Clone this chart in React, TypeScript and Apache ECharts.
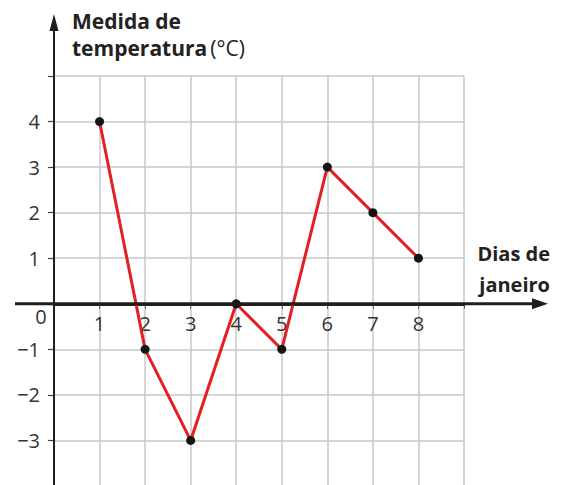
import React, { useEffect, useRef } from "react";
import * as echarts from "echarts";

const days = [1, 2, 3, 4, 5, 6, 7, 8];
const temps = [4, -1, -3, 0, -1, 3, 2, 1];
const xMin = 0;
const xMax = 9;
const yMin = -4;
const yMax = 5;
const xTickLabels = ["1", "2", "3", "4", "5", "6", "7", "8"];
const yTickLabels = ["−3", "−2", "−1", "1", "2", "3", "4"];
const yTitle = ["Medida de", "temperatura", "(°C)"];
const xTitle = ["Dias de", "janeiro"];

const FONT = "'Open Sans', 'Noto Sans', sans-serif";
const AXIS = "#1e1e1e";

export default function App() {
  const ref = useRef<HTMLDivElement>(null);
  useEffect(() => {
    document.body.style.margin = "0";
    if (!ref.current) return;
    const chart = echarts.init(ref.current, null, { renderer: "svg" });
    const fmtY = (v: number) => {
      const s = v < 0 ? "−" + Math.abs(v) : String(v);
      return yTickLabels.includes(s) ? s : "";
    };
    const fmtX = (v: number) => (xTickLabels.includes(String(v)) ? String(v) : "");
    chart.setOption({
      animation: false,
      grid: { left: 54, right: 102, top: 76, height: 410, containLabel: false, outerBoundsMode: "none" },
      xAxis: {
        type: "value",
        min: xMin,
        max: xMax,
        interval: 1,
        position: "bottom",
        offset: 0,
        axisLine: { show: true, onZero: false, lineStyle: { color: AXIS, width: 3 } },
        axisTick: { show: true, length: 5, lineStyle: { color: "#555", width: 1 } },
        axisLabel: { formatter: fmtX, margin: 10, fontSize: 20, color: "#333", fontFamily: FONT },
        splitLine: { show: true, lineStyle: { color: "#c8c8c8", width: 1.5 } },
      },
      yAxis: {
        type: "value",
        min: yMin,
        max: yMax,
        interval: 1,
        axisLine: { show: true, onZero: false, lineStyle: { color: AXIS, width: 2 } },
        axisTick: { show: true, length: 6, lineStyle: { color: "#444", width: 1.2 } },
        axisLabel: { formatter: fmtY, margin: 14, fontSize: 20, color: "#333", fontFamily: FONT },
        splitLine: { show: true, lineStyle: { color: "#c8c8c8", width: 1.5 } },
      },
      series: [
        {
          type: "line",
          data: days.map((d, i) => [d, temps[i]]),
          lineStyle: { color: "#e31e24", width: 3 },
          symbol: "circle",
          symbolSize: 9,
          itemStyle: { color: "#141414" },
          z: 5,
        },
      ],
    });
    const [x0, y0] = chart.convertToPixel({ gridIndex: 0 }, [0, 0]) as number[];
    const [x9, y5] = chart.convertToPixel({ gridIndex: 0 }, [xMax, yMax]) as number[];
    const [, yb] = chart.convertToPixel({ gridIndex: 0 }, [0, yMin]) as number[];
    chart.setOption({
      xAxis: { offset: -(yb - y0) },
      graphic: [
        {
          type: "line",
          shape: { x1: 15, y1: y0, x2: x9 + 72, y2: y0 },
          style: { stroke: AXIS, lineWidth: 3 },
          z: 10,
        },
        {
          type: "polygon",
          shape: { points: [[x9 + 84, y0], [x9 + 68, y0 - 5.5], [x9 + 68, y0 + 5.5]] },
          style: { fill: AXIS },
          z: 10,
        },
        {
          type: "line",
          shape: { x1: x0, y1: yb, x2: x0, y2: y5 - 48 },
          style: { stroke: AXIS, lineWidth: 2 },
          z: 10,
        },
        {
          type: "polygon",
          shape: { points: [[x0, y5 - 62], [x0 - 4.5, y5 - 45], [x0 + 4.5, y5 - 45]] },
          style: { fill: AXIS },
          z: 10,
        },
        {
          type: "text",
          x: x0 - 13,
          y: y0 + 13,
          style: {
            text: "0",
            fontSize: 20,
            fill: "#333",
            fontFamily: FONT,
            align: "center",
            verticalAlign: "middle",
          },
          z: 10,
        },
        {
          type: "text",
          x: x0 + 18,
          y: 7,
          style: {
            text: `{b|${yTitle[0]}}\n{b|${yTitle[1]}} {n|${yTitle[2]}}`,
            fontFamily: FONT,
            rich: {
              b: { fontSize: 21, fontWeight: "bold", fill: "#222", fontFamily: FONT, lineHeight: 27 },
              n: { fontSize: 21, fontWeight: "normal", fill: "#222", fontFamily: FONT, lineHeight: 27 },
            },
          },
          z: 10,
        },
        {
          type: "text",
          x: x9 + 86,
          y: y0 - 66,
          style: {
            text: `${xTitle[0]}\n${xTitle[1]}`,
            fontFamily: FONT,
            fontSize: 20,
            fontWeight: "bold",
            fill: "#222",
            align: "right",
            lineHeight: 31,
          },
          z: 10,
        },
      ],
    });
    return () => chart.dispose();
  }, []);
  return <div ref={ref} style={{ width: 566, height: 485 }} />;
}
